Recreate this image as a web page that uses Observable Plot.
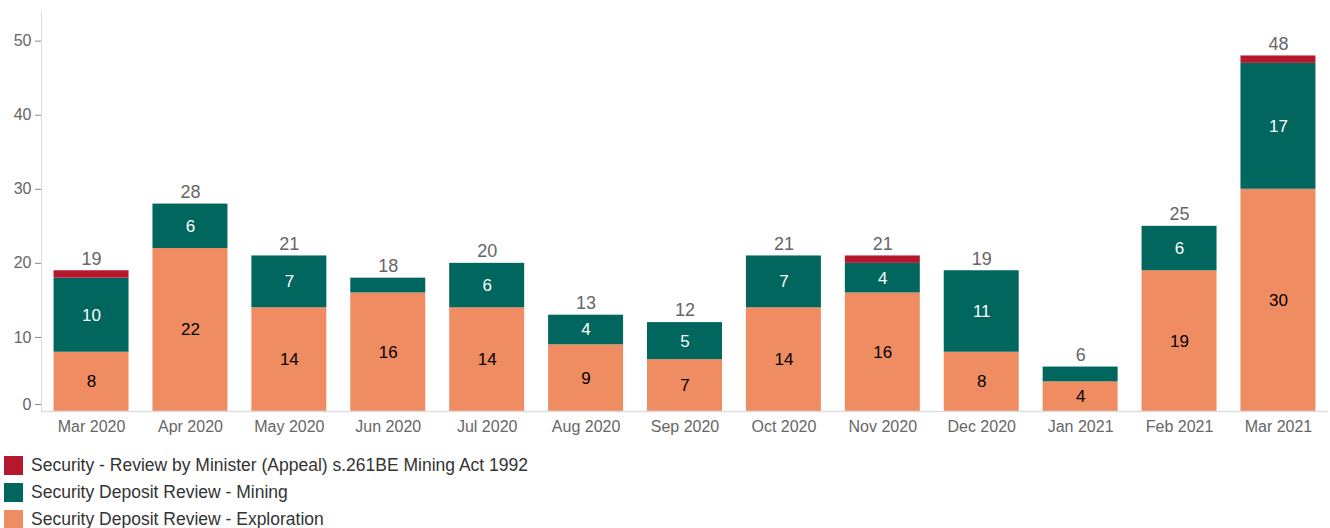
<!DOCTYPE html>
<html><head><meta charset="utf-8">
<script src="https://cdn.jsdelivr.net/npm/d3@7"></script>
<script src="https://cdn.jsdelivr.net/npm/@observablehq/plot@0.6"></script>
<style>
body{margin:0;background:#fff;font-family:"Liberation Sans",Arial,sans-serif;}
#legend{margin-top:7px;}
.row{display:flex;align-items:center;height:27px;font-size:17.5px;color:#333;}
.sw{width:19px;height:19px;margin-left:4px;margin-right:8px;}
</style></head><body>
<div id="chart"></div>
<div id="legend"></div>
<script>
const months = ["Mar 2020","Apr 2020","May 2020","Jun 2020","Jul 2020","Aug 2020","Sep 2020","Oct 2020","Nov 2020","Dec 2020","Jan 2021","Feb 2021","Mar 2021"];
const exploration = [8,22,14,16,14,9,7,14,16,8,4,19,30];
const mining = [10,6,7,2,6,4,5,7,4,11,2,6,17];
const appeal = [1,0,0,0,0,0,0,0,1,0,0,0,1];
const seriesNames = ["Security Deposit Review - Exploration","Security Deposit Review - Mining","Security - Review by Minister (Appeal) s.261BE Mining Act 1992"];
const seriesColors = ["#F08C62","#00665E","#B5182D"];
const labelColors = ["#000","#fff","#fff"];
const yTicks = [10,20,30,40,50];

const seriesValues = [exploration, mining, appeal];
const rows = [];
seriesValues.forEach((vals, s) => vals.forEach((v, i) => rows.push({month: months[i], series: seriesNames[s], s, value: v})));
const totals = months.map((m, i) => ({month: m, total: exploration[i] + mining[i] + appeal[i]}));

const chart = Plot.plot({
  width: 1330, height: 445,
  marginTop: 11, marginBottom: 34, marginLeft: 41, marginRight: 2,
  style: {fontFamily: "Liberation Sans, Arial, sans-serif", fontSize: "16px", color: "#666"},
  x: {domain: months, paddingInner: 0.242, paddingOuter: 0.127, round: false, label: null},
  y: {domain: [0, 54], label: null},
  color: {domain: seriesNames, range: seriesColors},
  marks: [
    Plot.frame({anchor: "left", stroke: "#ddd"}),
    Plot.axisX({tickSize: 0, tickPadding: 9, fontSize: 16, fill: "#666"}),
    Plot.axisY({ticks: yTicks, tickSize: 6, tickPadding: 4, fontSize: 16, fill: "#666", stroke: "#888"}),
    Plot.axisY({ticks: [0], tickSize: 6, tickPadding: 4, fontSize: 16, fill: "#666", stroke: "#888", dy: -7}),
    Plot.barY(rows, Plot.stackY({x: "month", y: "value", z: "s", fill: "series"})),
    Plot.ruleY([0], {stroke: "#ddd", strokeWidth: 1.5}),
    Plot.text(rows, Plot.stackY({
      filter: d => d.value >= 4,
      x: "month", y: "value", z: "s",
      text: d => String(d.value),
      fill: d => labelColors[d.s],
      fontSize: 17
    })),
    Plot.text(totals, {x: "month", y: "total", text: d => String(d.total), dy: -12, fill: "#666", fontSize: 18})
  ]
});
document.getElementById("chart").appendChild(chart);

const legend = document.getElementById("legend");
[2,1,0].forEach(s => {
  const r = document.createElement("div"); r.className = "row";
  const sw = document.createElement("div"); sw.className = "sw"; sw.style.background = seriesColors[s];
  const t = document.createElement("span"); t.textContent = seriesNames[s];
  r.appendChild(sw); r.appendChild(t); legend.appendChild(r);
});
</script>
</body></html>
